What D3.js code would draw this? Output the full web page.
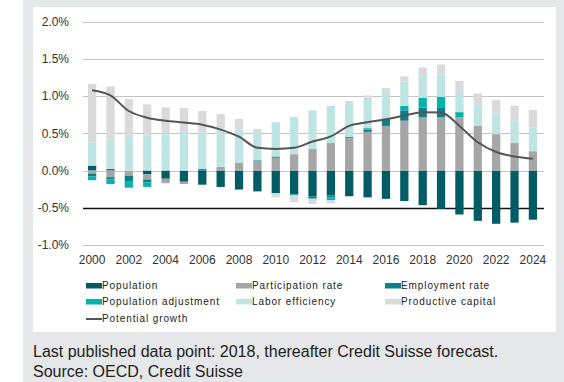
<!DOCTYPE html>
<html>
<head>
<meta charset="utf-8">
<script src="https://cdn.jsdelivr.net/npm/d3@7/dist/d3.min.js"></script>
<style>
  html, body { margin: 0; padding: 0; background: #fff; }
  svg { display: block; font-family: "Liberation Sans", Arial, sans-serif; }
</style>
</head>
<body>
<svg id="chart" width="564" height="382"></svg>
<script>
// Contributions to potential growth, percentage points per year
const years = [2000, 2001, 2002, 2003, 2004, 2005, 2006, 2007, 2008, 2009, 2010, 2011, 2012,
               2013, 2014, 2015, 2016, 2017, 2018, 2019, 2020, 2021, 2022, 2023, 2024];
const population        = [0.067, 0.02, 0, -0.05, -0.11, -0.15, -0.19, -0.22, -0.255, -0.28, -0.305, -0.32, -0.35,
                           -0.335, -0.345, -0.36, -0.38, -0.41, -0.465, -0.515, -0.59, -0.675, -0.715, -0.70, -0.66];
const participationRate = [-0.04, -0.09, -0.07, -0.07, -0.06, -0.03, 0, 0.05, 0.09, 0.13, 0.17, 0.22, 0.29,
                           0.37, 0.435, 0.52, 0.60, 0.67, 0.715, 0.715, 0.715, 0.60, 0.49, 0.37, 0.26];
const employmentRate    = [-0.04, -0.03, -0.08, -0.04, 0, 0, 0.02, 0, 0, 0, 0, 0, -0.02,
                           -0.025, 0, 0.03, 0.08, 0.14, 0.13, 0.135, 0, 0, 0, 0, 0];
const populationAdj     = [-0.05, -0.06, -0.08, -0.06, 0, 0, 0, 0, 0.01, 0.01, 0.02, -0.015, -0.01,
                           -0.04, 0.02, 0.02, 0.02, 0.06, 0.135, 0.14, 0.07, 0, 0, 0, 0];
const laborEfficiency   = [0.313, 0.40, 0.45, 0.47, 0.50, 0.52, 0.49, 0.47, 0.45, 0.39, 0.46, 0.50, 0.52,
                           0.50, 0.45, 0.41, 0.37, 0.33, 0.30, 0.30, 0.27, 0.27, 0.28, 0.30, 0.32];
const productiveCapital = [0.785, 0.71, 0.51, 0.42, 0.35, 0.32, 0.29, 0.24, 0.145, 0.03, -0.055, -0.09, -0.07,
                           -0.04, 0.03, 0.03, 0.04, 0.065, 0.105, 0.135, 0.15, 0.165, 0.18, 0.20, 0.235];
const potentialGrowth   = [1.08, 1.01, 0.80, 0.71, 0.67, 0.645, 0.615, 0.55, 0.455, 0.305, 0.29, 0.305, 0.39,
                           0.46, 0.60, 0.65, 0.69, 0.74, 0.785, 0.78, 0.60, 0.38, 0.25, 0.19, 0.16];
const yTicks = [-1.0, -0.5, 0.0, 0.5, 1.0, 1.5, 2.0];
const xTickYears = [2000, 2002, 2004, 2006, 2008, 2010, 2012, 2014, 2016, 2018, 2020, 2022, 2024];

const seriesNames = ["Population", "Participation rate", "Employment rate",
                     "Population adjustment", "Labor efficiency", "Productive capital"];
const seriesValues = [population, participationRate, employmentRate,
                      populationAdj, laborEfficiency, productiveCapital];
const seriesColors = ["#015c66", "#a6a6a6", "#0c8088", "#06b2ae", "#bfe5e2", "#dadada"];
const lineLabel = "Potential growth";
const footnotes = ["Last published data point: 2018, thereafter Credit Suisse forecast.",
                   "Source: OECD, Credit Suisse"];

// Table for the stack layout
const table = years.map((yr, i) => {
  const row = { year: yr };
  seriesNames.forEach((n, k) => { row[n] = seriesValues[k][i]; });
  return row;
});

const svg = d3.select("#chart");

// Frame: grey surround, white chart panel
svg.append("rect").attr("x", 23).attr("y", 0).attr("width", 541).attr("height", 382).attr("fill", "#e6e7e8");
svg.append("rect").attr("x", 33).attr("y", 7).attr("width", 523).attr("height", 325).attr("fill", "#fff");

const plotLeft = 83, plotRight = 544;
const x = d3.scaleBand().domain(years).range([82, 543]).paddingInner(0.55).paddingOuter(0.325);
const y = d3.scaleLinear().domain([-1, 2]).range([245, 21.7]);

// Gridlines
svg.append("g").selectAll("line").data(yTicks).join("line")
  .attr("x1", plotLeft).attr("x2", plotRight)
  .attr("y1", d => Math.round(y(d)) + 0.5).attr("y2", d => Math.round(y(d)) + 0.5)
  .attr("stroke", d => d === -0.5 ? "#111" : "#c4c4c4")
  .attr("stroke-width", d => d === -0.5 ? 1.3 : 1);

// Y axis labels
const yAxis = d3.axisLeft(y).tickValues(yTicks).tickSize(0).tickPadding(0)
  .tickFormat(d => d.toFixed(1) + "%");
svg.append("g").attr("transform", "translate(69,0)").call(yAxis)
  .call(g => g.select(".domain").remove())
  .call(g => g.selectAll("text").attr("font-size", 12).attr("fill", "#333")
    .attr("font-family", "Liberation Sans, Arial, sans-serif"));

// X axis labels
const xAxis = d3.axisBottom(x).tickValues(xTickYears).tickSize(0).tickPadding(0);
svg.append("g").attr("transform", "translate(0,255)").call(xAxis)
  .call(g => g.select(".domain").remove())
  .call(g => g.selectAll("text").attr("font-size", 12).attr("fill", "#333")
    .attr("font-family", "Liberation Sans, Arial, sans-serif"));

// Stacked contributions (positives up, negatives down)
const stack = d3.stack().keys(seriesNames).offset(d3.stackOffsetDiverging);
const layers = stack(table);
svg.append("g").selectAll("g").data(layers).join("g")
  .attr("fill", (d, i) => seriesColors[i])
  .selectAll("rect").data(d => d).join("rect")
  .attr("x", d => x(d.data.year))
  .attr("width", x.bandwidth())
  .attr("y", d => y(Math.max(d[0], d[1])))
  .attr("height", d => Math.abs(y(d[0]) - y(d[1])));

// Potential growth line
const line = d3.line()
  .x((d, i) => x(years[i]) + x.bandwidth() / 2)
  .y(d => y(d))
  .curve(d3.curveMonotoneX);
svg.append("path").datum(potentialGrowth)
  .attr("d", line).attr("fill", "none")
  .attr("stroke", "#555").attr("stroke-width", 2);

// Legend
const legendCols = [86, 236, 385];
const legendRows = [289, 305, 322];
const legend = svg.append("g").attr("font-size", 10).attr("letter-spacing", "0.9px").attr("fill", "#222");
seriesNames.forEach((n, i) => {
  const cx = legendCols[i % 3], cy = legendRows[Math.floor(i / 3)];
  legend.append("rect").attr("x", cx).attr("y", cy - 6).attr("width", 16).attr("height", 5.5)
    .attr("fill", seriesColors[i]);
  legend.append("text").attr("x", cx + 16).attr("y", cy).text(n);
});
legend.append("line").attr("x1", legendCols[0]).attr("x2", legendCols[0] + 16)
  .attr("y1", legendRows[2] - 3).attr("y2", legendRows[2] - 3)
  .attr("stroke", "#555").attr("stroke-width", 2);
legend.append("text").attr("x", legendCols[0] + 16).attr("y", legendRows[2]).text(lineLabel);

// Footnotes
svg.append("g").attr("font-size", 16).attr("fill", "#222")
  .selectAll("text").data(footnotes).join("text")
  .attr("x", 33).attr("y", (d, i) => 357 + i * 20).text(d => d);
</script>
</body>
</html>
